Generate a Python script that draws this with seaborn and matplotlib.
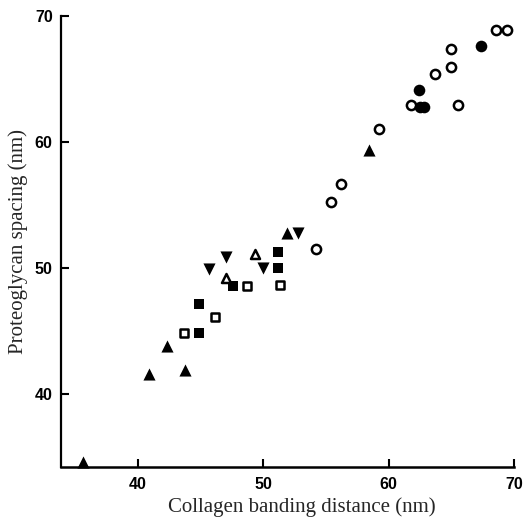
import matplotlib
matplotlib.use("Agg")
import matplotlib.pyplot as plt
import seaborn as sns
import pandas as pd

# ---- data ----
tri_up_filled_x = [35.6, 40.9, 42.3, 43.75, 51.9, 58.4]
tri_up_filled_y = [34.6, 41.6, 43.8, 41.9, 52.8, 59.4]

tri_down_filled_x = [52.8, 47.0, 45.7, 50.0]
tri_down_filled_y = [52.8, 50.9, 49.9, 50.0]

tri_up_open_x = [49.3, 47.0]
tri_up_open_y = [51.1, 49.2]

sq_filled_x = [51.2, 51.2, 47.6, 44.9, 44.9]
sq_filled_y = [51.3, 50.0, 48.6, 47.1, 44.8]

sq_open_x = [51.3, 48.7, 46.1, 43.7]
sq_open_y = [48.65, 48.6, 46.1, 44.8]

circ_open_x = [54.2, 55.4, 56.2, 59.2, 61.8, 65.5, 63.7, 65.0, 65.0, 68.6, 69.45]
circ_open_y = [51.5, 55.2, 56.7, 61.0, 62.9, 62.9, 65.4, 65.95, 67.4, 68.9, 68.9]

circ_filled_x = [62.4, 62.5, 62.85, 67.4]
circ_filled_y = [64.1, 62.8, 62.8, 67.6]

x_ticks = [40, 50, 60, 70]
y_ticks = [40, 50, 60, 70]
x_label = "Collagen banding distance (nm)"
y_label = "Proteoglycan spacing (nm)"

sns.set_style("ticks")
plt.rcParams['font.family'] = ['Liberation Sans', 'DejaVu Sans']

fig = plt.figure(figsize=(5.25, 5.17), dpi=100)
ax = fig.add_axes([61 / 525, 50 / 517, (514 - 61) / 525, (467 - 16) / 517])

def draw(xs, ys, marker, filled, s):
    df = pd.DataFrame({"x": xs, "y": ys})
    if filled:
        sns.scatterplot(data=df, x="x", y="y", marker=marker, s=s, color="black",
                        edgecolor="black", linewidth=0, ax=ax, zorder=3, clip_on=False)
    else:
        sns.scatterplot(data=df, x="x", y="y", marker=marker, s=s, color="white",
                        edgecolor="black", linewidth=1.8, ax=ax, zorder=3, clip_on=False)

draw(circ_open_x, circ_open_y, "o", False, 44)
draw(circ_filled_x, circ_filled_y, "o", True, 70)
draw(sq_open_x, sq_open_y, "s", False, 36)
draw(sq_filled_x, sq_filled_y, "s", True, 58)
draw(tri_up_open_x, tri_up_open_y, "^", False, 42)
draw(tri_up_filled_x, tri_up_filled_y, "^", True, 76)
draw(tri_down_filled_x, tri_down_filled_y, "v", True, 76)

ax.set_xlim(33.85, 70)
ax.set_ylim(34.2, 70)
ax.set_xticks(x_ticks)
ax.set_yticks(y_ticks)

for side in ["top", "right"]:
    ax.spines[side].set_visible(False)
ax.spines["left"].set_linewidth(1.6)
ax.spines["bottom"].set_linewidth(1.8)
ax.spines["left"].set_color("black")
ax.spines["bottom"].set_color("black")

ax.tick_params(axis="x", direction="in", length=6, width=1.5, pad=7,
               labelsize=11.5, colors="black")
ax.tick_params(axis="y", direction="in", length=6, width=1.5, pad=6,
               labelsize=11.5, colors="black")
for lab in ax.get_xticklabels() + ax.get_yticklabels():
    lab.set_fontweight("bold")

ax.set_xlabel(x_label, fontsize=15, family="Liberation Serif")
ax.set_ylabel(y_label, fontsize=15, family="Liberation Serif", labelpad=5)
ax.xaxis.set_label_coords((302 - 61) / 453, -0.066)

fig.savefig("out.png", dpi=100)
